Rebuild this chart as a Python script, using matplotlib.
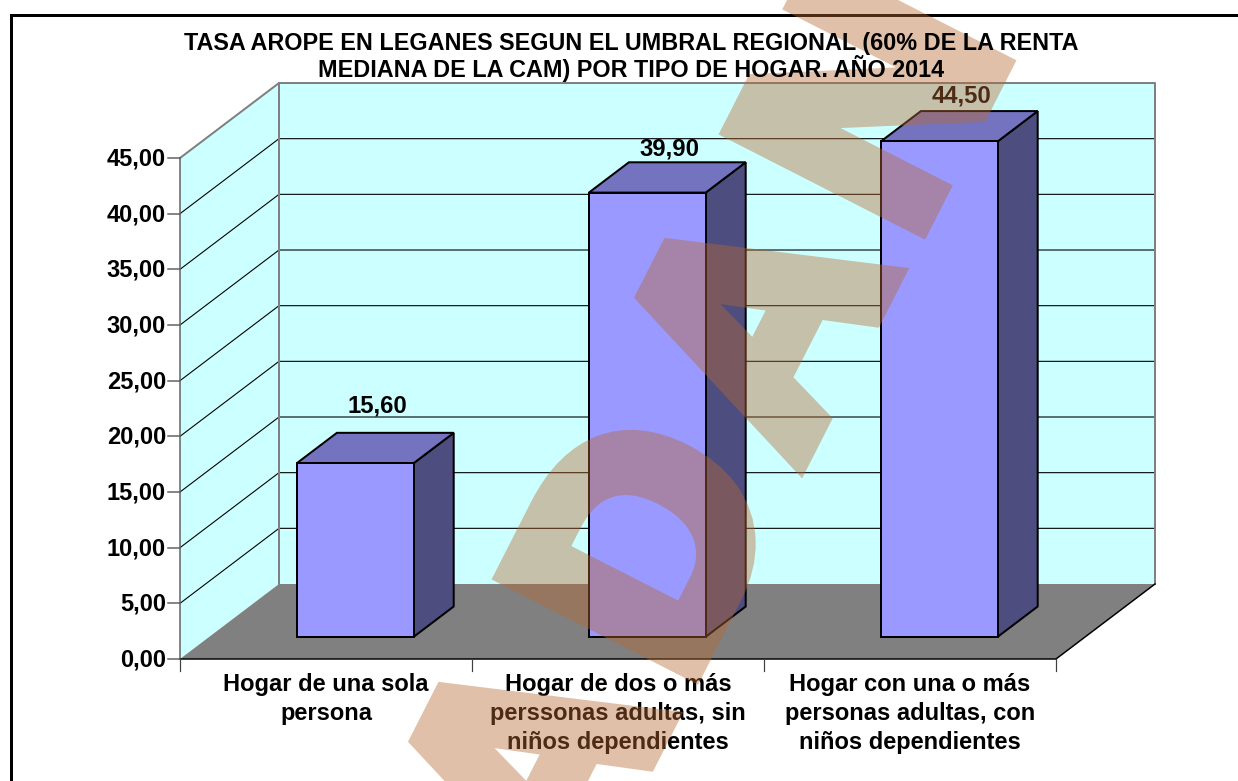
import numpy as np
import matplotlib
matplotlib.use('Agg')
import matplotlib.pyplot as plt
import matplotlib.patheffects as pe
from matplotlib.patches import Polygon
from matplotlib.lines import Line2D
from matplotlib.transforms import IdentityTransform

categories = ['Hogar de una sola\npersona',
              'Hogar de dos o más\nperssonas adultas, sin\nniños dependientes',
              'Hogar con una o más\npersonas adultas, con\nniños dependientes']
values = [15.60, 39.90, 44.50]
value_labels = ['15,60', '39,90', '44,50']
y_ticks = [0, 5, 10, 15, 20, 25, 30, 35, 40, 45]
y_tick_labels = ['0,00', '5,00', '10,00', '15,00', '20,00', '25,00', '30,00', '35,00', '40,00', '45,00']
title = 'TASA AROPE EN LEGANES SEGUN EL UMBRAL REGIONAL (60% DE LA RENTA\nMEDIANA DE LA CAM) POR TIPO DE HOGAR. AÑO 2014'
watermark = ['A', 'D', 'A', 'N']

W, H = 1238, 781
X0, XU = 180, 292.0
Y0, YU = 659, 11.133
DX, DY = 99 / XU, 75 / YU
BAR_W, BAR_D0, BAR_D1 = 0.4, 0.296, 0.70
label_gap = [42, 28, 30]

plt.rcParams['font.family'] = ['Liberation Sans', 'DejaVu Sans']
fig = plt.figure(figsize=(W / 100, H / 100), dpi=100, facecolor='white')
ax = fig.add_axes([0, 0, 1, 1])
ax.set_xlim(-X0 / XU, (W - X0) / XU)
ax.set_ylim(-(H - Y0) / YU, Y0 / YU)
ax.axis('off')

def P(x, y, d=0.0):
    return (x + d * DX, y + d * DY)

PX = 0.72
n = len(categories)
top = y_ticks[-1]
GREY = '#808080'

# chart frame: only its top and left edges fall inside the picture
ax.add_line(Line2D([11, 11, W + 5], [-5, H - 15, H - 15], transform=IdentityTransform(),
                   color='black', lw=3 * PX, zorder=1, solid_joinstyle='miter'))

# walls and floor
ax.add_patch(Polygon([P(0, 0), P(0, top), P(0, top, 1), P(0, 0, 1)], fc='#CCFFFF', ec='none', zorder=2))
ax.add_patch(Polygon([P(0, 0, 1), P(0, top, 1), P(n, top, 1), P(n, 0, 1)], fc='#CCFFFF', ec='none', zorder=2))
ax.add_patch(Polygon([P(0, 0), P(n, 0), P(n, 0, 1), P(0, 0, 1)], fc=GREY, ec='none', zorder=2))

# gridlines
for v in y_ticks[1:-1]:
    xs, ys = zip(P(0, v), P(0, v, 1), P(n, v, 1))
    ax.plot(xs, ys, color='black', lw=1.1 * PX, zorder=3, solid_joinstyle='miter')
xs, ys = zip(P(0, top), P(0, top, 1), P(n, top, 1), P(n, 0, 1))
ax.plot(xs, ys, color=GREY, lw=2 * PX, zorder=3)
xs, ys = zip(P(0, 0, 1), P(0, top, 1))
ax.plot(xs, ys, color=GREY, lw=2 * PX, zorder=3)
ax.plot([0, 0], [0, top], color='#606060', lw=1.5 * PX, zorder=4)
xs, ys = zip(P(0, 0), P(n, 0), P(n, 0, 1))
ax.plot(xs, ys, color='black', lw=1.5 * PX, zorder=4)

# ticks
tk_y = 12 / XU
tk_x = 12 / YU
for v, lab in zip(y_ticks, y_tick_labels):
    ax.plot([-tk_y, 0], [v, v], color='#606060', lw=1.5 * PX, zorder=4)
    ax.annotate(lab, (0, v), xytext=(-14 * PX, -1 * PX), textcoords='offset points', ha='right',
                va='center', fontsize=17.0, fontweight='bold', color='black', zorder=5)
for i in range(n + 1):
    ax.plot([i, i], [0, -tk_x], color='#404040', lw=1.2 * PX, zorder=4)
for i, lab in enumerate(categories):
    ax.annotate(lab, (i + 0.5, 0), xytext=(0, -14 * PX), textcoords='offset points', ha='center',
                va='top', fontsize=17.0, fontweight='bold', color='black', linespacing=1.32, zorder=5)

# bars
for i, v in enumerate(values):
    l, r = i + 0.5 - BAR_W / 2, i + 0.5 + BAR_W / 2
    front = [P(l, 0, BAR_D0), P(r, 0, BAR_D0), P(r, v, BAR_D0), P(l, v, BAR_D0)]
    side = [P(r, 0, BAR_D0), P(r, 0, BAR_D1), P(r, v, BAR_D1), P(r, v, BAR_D0)]
    cap = [P(l, v, BAR_D0), P(r, v, BAR_D0), P(r, v, BAR_D1), P(l, v, BAR_D1)]
    for pts, c in ((side, '#4D4D80'), (cap, '#7373BF'), (front, '#9999FF')):
        ax.add_patch(Polygon(pts, fc=c, ec='black', lw=2 * PX, joinstyle='miter', zorder=6))
    ax.annotate(value_labels[i], P(i + 0.5, v, (BAR_D0 + BAR_D1) / 2), xytext=(2 * PX, label_gap[i] * PX),
                textcoords='offset points', ha='center', va='center', fontsize=17.2,
                fontweight='bold', color='black', zorder=7)

fig.text(631 / W, 1 - 57 / H, title, ha='center', va='center', fontsize=16.8, fontweight='bold',
         linespacing=1.04, color='black', zorder=8)

# watermark
def fade(img, dpi):
    out = img.copy()
    out[..., 3] = out[..., 3] * 0.42
    return out, 0, 0

WM_C = '#B96932'
wm_xy = [(620, 812), (734, 590), (846, 368), (961, 145)]
for ch, (x, y) in zip(watermark, wm_xy):
    t = ax.text(x, H - y, ch, transform=IdentityTransform(), fontsize=305 * PX, fontweight='bold',
                color=WM_C, rotation=63, rotation_mode='anchor', ha='center', va='baseline',
                zorder=20, clip_on=True)
    t.set_path_effects([pe.Stroke(linewidth=22 * PX, foreground=WM_C, joinstyle='miter'), pe.Normal()])
    t.set_agg_filter(fade)

fig.savefig('out.png', dpi=100)
